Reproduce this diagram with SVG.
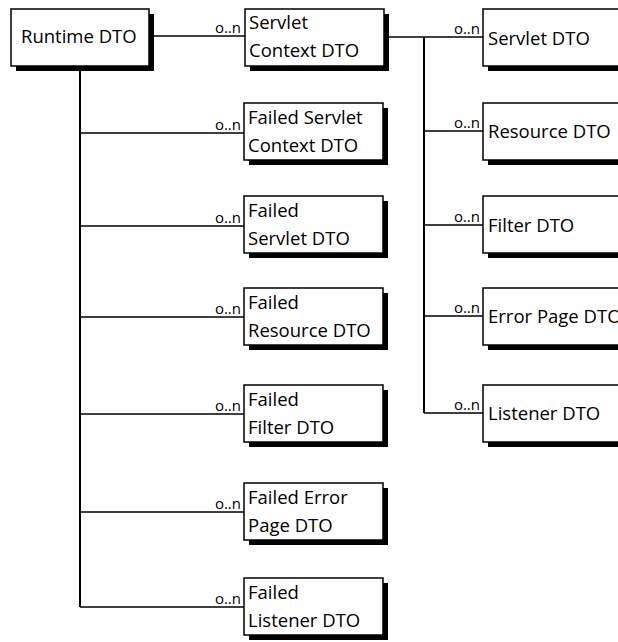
<svg xmlns="http://www.w3.org/2000/svg" width="618" height="642" viewBox="0 0 618 642">
<defs>
<style>
.box{fill:#fff;stroke:#000;stroke-width:1.5}
.sh{fill:#000}
.t{font-family:"Open Sans","Noto Sans",sans-serif;font-size:18.5px;fill:#000}
.m{font-family:"Open Sans","Noto Sans",sans-serif;font-size:15px;fill:#000;text-anchor:end}
.c{stroke:#000;fill:none;stroke-width:1.5}
.v{stroke:#000;fill:none;stroke-width:2}
</style>
</defs>
<rect width="618" height="642" fill="#fff"/>
<g id="connectors">
<path class="c" d="M149 36H245"/>
<path class="v" d="M80 66V607"/>
<path class="c" d="M80 133H244M80 226H244M80 317H244M80 414H244M80 512H244M80 607H244"/>
<path class="c" d="M384 37H483"/>
<path class="v" d="M424 37V413"/>
<path class="c" d="M424 131H483M424 225H483M424 316H483M424 413H483"/>
<text class="m" x="241" y="33">o..n</text>
<text class="m" x="241" y="130">o..n</text>
<text class="m" x="241" y="223">o..n</text>
<text class="m" x="241" y="314">o..n</text>
<text class="m" x="241" y="411">o..n</text>
<text class="m" x="241" y="509">o..n</text>
<text class="m" x="241" y="604">o..n</text>
<text class="m" x="480" y="34">o..n</text>
<text class="m" x="480" y="128">o..n</text>
<text class="m" x="480" y="222">o..n</text>
<text class="m" x="480" y="313">o..n</text>
<text class="m" x="480" y="410">o..n</text>
</g>
<g id="runtime"><rect class="sh" x="16" y="14" width="138" height="57"/><rect class="box" x="11" y="9" width="138" height="57"/><text class="t" x="21" y="43">Runtime DTO</text></g>
<g id="servletContext"><rect class="sh" x="250" y="14" width="139" height="57"/><rect class="box" x="245" y="9" width="139" height="57"/><text class="t" x="249" y="29">Servlet</text><text class="t" x="249" y="57">Context DTO</text></g>
<g id="failedServletContext"><rect class="sh" x="249" y="108" width="139" height="57"/><rect class="box" x="244" y="103" width="139" height="57"/><text class="t" x="248" y="124">Failed Servlet</text><text class="t" x="248" y="152">Context DTO</text></g>
<g id="failedServlet"><rect class="sh" x="249" y="201" width="139" height="57"/><rect class="box" x="244" y="196" width="139" height="57"/><text class="t" x="248" y="217">Failed</text><text class="t" x="248" y="245">Servlet DTO</text></g>
<g id="failedResource"><rect class="sh" x="249" y="293" width="139" height="57"/><rect class="box" x="244" y="288" width="139" height="57"/><text class="t" x="248" y="309">Failed</text><text class="t" x="248" y="337">Resource DTO</text></g>
<g id="failedFilter"><rect class="sh" x="249" y="390" width="139" height="57"/><rect class="box" x="244" y="385" width="139" height="57"/><text class="t" x="248" y="406">Failed</text><text class="t" x="248" y="434">Filter DTO</text></g>
<g id="failedErrorPage"><rect class="sh" x="249" y="488" width="139" height="57"/><rect class="box" x="244" y="483" width="139" height="57"/><text class="t" x="248" y="504">Failed Error</text><text class="t" x="248" y="532">Page DTO</text></g>
<g id="failedListener"><rect class="sh" x="249" y="583" width="139" height="57"/><rect class="box" x="244" y="578" width="139" height="57"/><text class="t" x="248" y="599">Failed</text><text class="t" x="248" y="627">Listener DTO</text></g>
<g id="servlet"><rect class="sh" x="488" y="14" width="160" height="57"/><rect class="box" x="483" y="9" width="160" height="57"/><text class="t" x="488" y="45">Servlet DTO</text></g>
<g id="resource"><rect class="sh" x="488" y="108" width="160" height="57"/><rect class="box" x="483" y="103" width="160" height="57"/><text class="t" x="488" y="138">Resource DTO</text></g>
<g id="filter"><rect class="sh" x="488" y="201" width="160" height="57"/><rect class="box" x="483" y="196" width="160" height="57"/><text class="t" x="488" y="232">Filter DTO</text></g>
<g id="errorPage"><rect class="sh" x="488" y="293" width="160" height="57"/><rect class="box" x="483" y="288" width="160" height="57"/><text class="t" x="488" y="323">Error Page DTO</text></g>
<g id="listener"><rect class="sh" x="488" y="390" width="160" height="57"/><rect class="box" x="483" y="385" width="160" height="57"/><text class="t" x="488" y="420">Listener DTO</text></g>
</svg>
